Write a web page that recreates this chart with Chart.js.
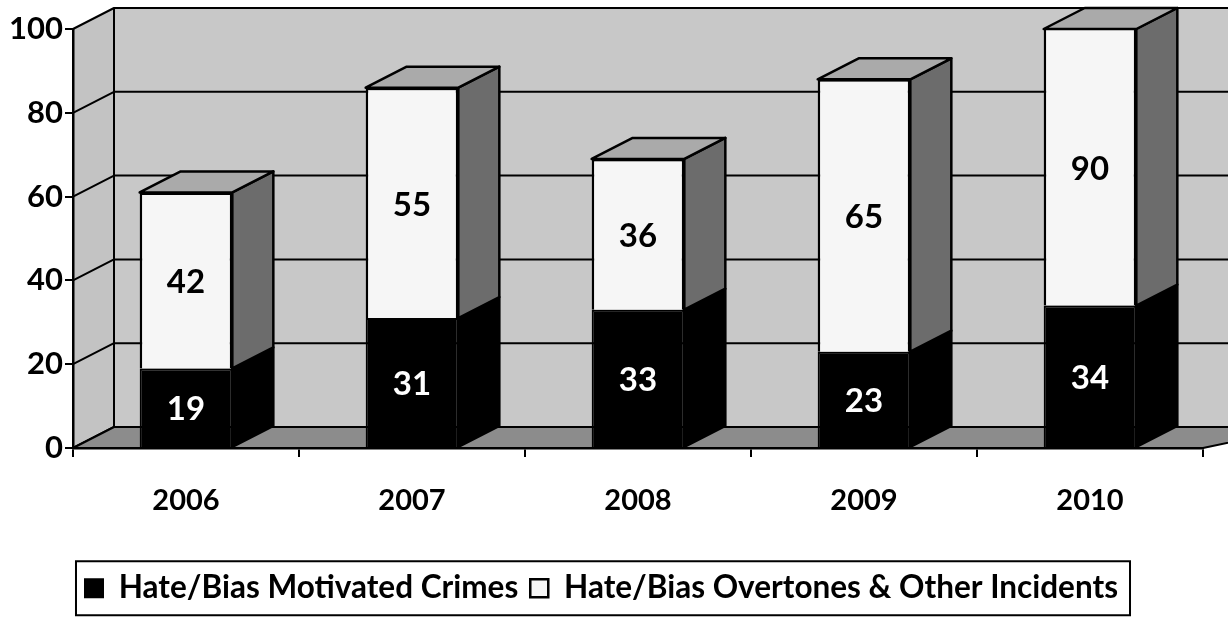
<!DOCTYPE html>
<html>
<head>
<meta charset="utf-8">
<script src="https://cdn.jsdelivr.net/npm/chart.js@4.4.1/dist/chart.umd.min.js"></script>
<style>
  html, body { margin: 0; padding: 0; background: #fff; }
  #chart { display: block; }
</style>
</head>
<body>
<canvas id="chart" width="1228" height="628"></canvas>
<script>
const years = ['2006', '2007', '2008', '2009', '2010'];
const motivatedCrimes = [19, 31, 33, 23, 34];
const overtonesIncidents = [42, 55, 36, 65, 90];
const yTicks = [0, 20, 40, 60, 80, 100];
const seriesNames = ['Hate/Bias Motivated Crimes', 'Hate/Bias Overtones & Other Incidents'];

// 3d look
const DX = 41, DY = -21;
const FONT = 'Lato, "Open Sans", sans-serif';
const PLOT_BOTTOM = 448;

function poly(ctx, pts, fill) {
  ctx.beginPath();
  ctx.moveTo(pts[0][0], pts[0][1]);
  for (let i = 1; i < pts.length; i++) ctx.lineTo(pts[i][0], pts[i][1]);
  ctx.closePath();
  if (fill) { ctx.fillStyle = fill; ctx.fill(); }
  ctx.stroke();
}

const walls = {
  id: 'walls',
  beforeDraw(chart) {
    const { ctx, chartArea: a, scales: { y } } = chart;
    const W = chart.width + 20;
    ctx.save();
    ctx.strokeStyle = '#000';
    ctx.lineWidth = 2;
    ctx.lineJoin = 'round';
    // back wall
    ctx.fillStyle = '#c8c8c8';
    ctx.fillRect(a.left + DX, a.top + DY, W, a.bottom - a.top);
    // left wall
    ctx.save();
    ctx.strokeStyle = 'transparent';
    poly(ctx, [[a.left, a.top], [a.left + DX, a.top + DY], [a.left + DX, a.bottom + DY], [a.left, a.bottom]], '#c3c3c3');
    ctx.restore();
    // grid lines on both walls
    yTicks.forEach(v => {
      const py = y.getPixelForValue(v);
      ctx.beginPath();
      ctx.moveTo(a.left, py);
      ctx.lineTo(a.left + DX, py + DY);
      ctx.lineTo(W, py + DY);
      ctx.stroke();
    });
    ctx.beginPath();
    ctx.moveTo(a.left + DX, a.top + DY);
    ctx.lineTo(a.left + DX, a.bottom + DY);
    ctx.stroke();
    // floor
    poly(ctx, [[a.left, a.bottom], [a.left + DX, a.bottom + DY], [a.right + DX + 60, a.bottom + DY], [a.right, a.bottom]], '#8c8c8c');
    ctx.restore();
  }
};

const bars3d = {
  id: 'bars3d',
  afterDatasetsDraw(chart) {
    const { ctx, chartArea: a } = chart;
    ctx.save();
    ctx.strokeStyle = '#000';
    ctx.lineWidth = 2.5;
    ctx.lineJoin = 'round';
    const n = chart.data.datasets.length;
    chart.data.datasets.forEach((ds, di) => {
      const meta = chart.getDatasetMeta(di);
      meta.data.forEach((el, i) => {
        const p = el.getProps(['x', 'y', 'base', 'width'], true);
        const x1 = p.x - p.width / 2, x2 = p.x + p.width / 2;
        const top = Math.max(p.y, a.top), bot = p.base;
        const side = di === 0 ? '#000' : '#6c6c6c';
        poly(ctx, [[x2, top], [x2 + DX, top + DY], [x2 + DX, bot + DY], [x2, bot]], side);
        if (di === n - 1) {
          poly(ctx, [[x1, top], [x1 + DX, top + DY], [x2 + DX, top + DY], [x2, top]], '#aaaaaa');
        }
        // value label
        ctx.fillStyle = di === 0 ? '#fff' : '#000';
        ctx.font = 'bold 33px ' + FONT;
        ctx.textAlign = 'center';
        ctx.textBaseline = 'middle';
        ctx.fillText(String(ds.data[i]), p.x, (top + bot) / 2 + 2);
      });
    });
    ctx.restore();
  }
};

const legendFrame = {
  id: 'legendFrame',
  afterDraw(chart) {
    const lg = chart.legend;
    if (!lg || !lg.legendHitBoxes.length) return;
    const hb = lg.legendHitBoxes;
    const left = hb[0].left - 9;
    const last = hb[hb.length - 1];
    const right = last.left + last.width + 12;
    const cy = hb[0].top + hb[0].height / 2;
    const { ctx } = chart;
    ctx.save();
    ctx.strokeStyle = '#000';
    ctx.lineWidth = 2;
    ctx.strokeRect(left, cy - 27, right - left, 54);
    ctx.restore();
  }
};

new Chart(document.getElementById('chart'), {
  type: 'bar',
  data: {
    labels: years,
    datasets: [
      {
        label: seriesNames[0],
        data: motivatedCrimes,
        backgroundColor: '#000',
        borderColor: '#000',
        borderWidth: 2,
      },
      {
        label: seriesNames[1],
        data: overtonesIncidents,
        backgroundColor: '#f6f6f6',
        borderColor: '#000',
        borderWidth: 2.5,
      }
    ]
  },
  options: {
    responsive: false,
    animation: false,
    layout: { padding: { left: 0, right: 25, top: 29, bottom: 14 } },
    categoryPercentage: 1,
    barPercentage: 0.41,
    plugins: {
      tooltip: { enabled: false },
      legend: {
        position: 'bottom',
        labels: {
          color: '#000',
          font: { family: FONT, size: 31.5, weight: 'bold' },
          boxWidth: 18,
          boxHeight: 18,
          padding: 12,
        }
      }
    },
    scales: {
      x: {
        stacked: true,
        grid: { drawOnChartArea: false, color: '#000', lineWidth: 2, tickLength: 9, offset: true },
        border: { color: '#000', width: 2.5 },
        ticks: { color: '#000', font: { family: FONT, size: 29, weight: 'bold' }, padding: 26 },
        afterFit(scale) {
          const lgH = scale.chart.legend ? scale.chart.legend.height : 0;
          scale.height = 628 - PLOT_BOTTOM - 14 - lgH;
        }
      },
      y: {
        stacked: true,
        min: 0,
        max: 100,
        grid: { drawOnChartArea: false, color: '#000', lineWidth: 2, tickLength: 8 },
        border: { color: '#000', width: 2.5 },
        ticks: { stepSize: 20, color: '#000', font: { family: FONT, size: 31, weight: 'bold' }, padding: 2 },
        afterFit(scale) { scale.width = 73; }
      }
    }
  },
  plugins: [walls, bars3d, legendFrame]
});
</script>
</body>
</html>
